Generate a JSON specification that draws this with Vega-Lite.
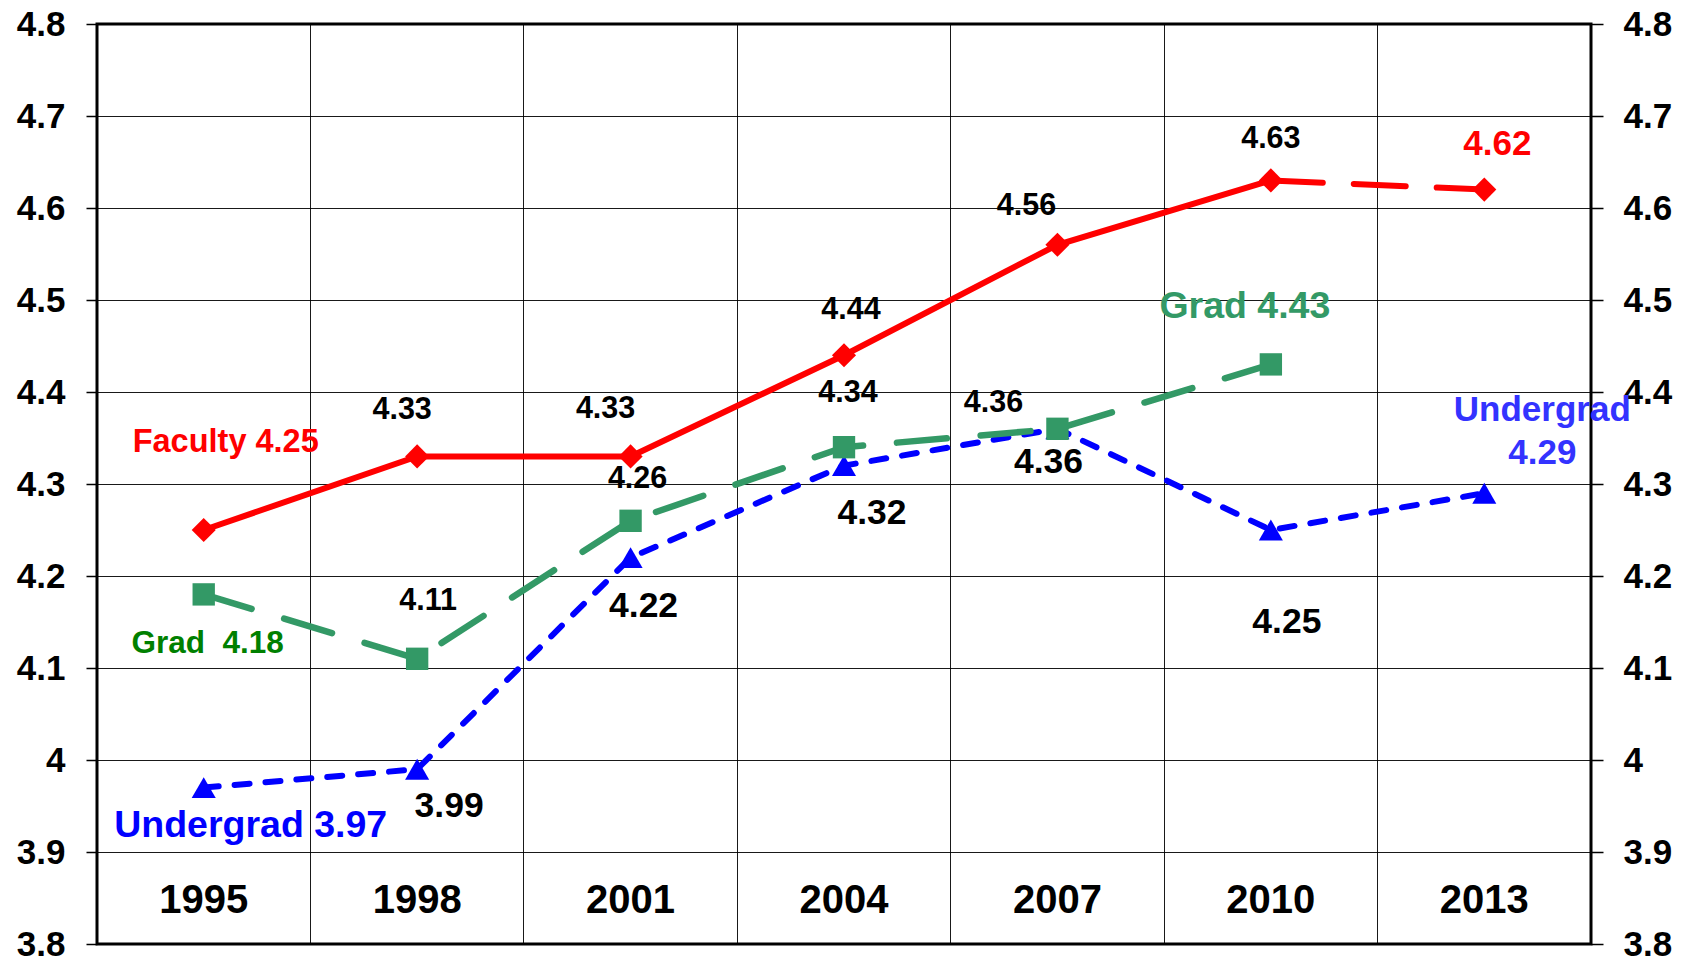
{
  "$schema": "https://vega.github.io/schema/vega-lite/v6.json",
  "width": 1494,
  "height": 920,
  "autosize": "none",
  "padding": {"left": 97, "top": 24, "right": 98, "bottom": 16},
  "background": "white",
  "config": {
    "view": {"stroke": "#000", "strokeWidth": 3},
    "font": "Liberation Sans",
    "text": {"font": "Liberation Sans", "fontWeight": "bold", "baseline": "middle", "align": "center"}
  },
  "datasets": {
    "pts": [
      {"series": "F", "year": 1995, "value": 4.25, "label": "Faculty 4.25"},
      {"series": "F", "year": 1998, "value": 4.33, "label": "4.33"},
      {"series": "F", "year": 2001, "value": 4.33, "label": "4.33"},
      {"series": "F", "year": 2004, "value": 4.44, "label": "4.44"},
      {"series": "F", "year": 2007, "value": 4.56, "label": "4.56"},
      {"series": "F", "year": 2010, "value": 4.63, "label": "4.63"},
      {"series": "F", "year": 2013, "value": 4.62, "label": "4.62"},
      {"series": "G", "year": 1995, "value": 4.18, "label": "Grad \u00a04.18"},
      {"series": "G", "year": 1998, "value": 4.11, "label": "4.11"},
      {"series": "G", "year": 2001, "value": 4.26, "label": "4.26"},
      {"series": "G", "year": 2004, "value": 4.34, "label": "4.34"},
      {"series": "G", "year": 2007, "value": 4.36, "label": "4.36"},
      {"series": "G", "year": 2010, "value": 4.43, "label": "Grad 4.43"},
      {"series": "U", "year": 1995, "value": 3.97, "label": "Undergrad 3.97"},
      {"series": "U", "year": 1998, "value": 3.99, "label": "3.99"},
      {"series": "U", "year": 2001, "value": 4.22, "label": "4.22"},
      {"series": "U", "year": 2004, "value": 4.32, "label": "4.32"},
      {"series": "U", "year": 2007, "value": 4.36, "label": "4.36"},
      {"series": "U", "year": 2010, "value": 4.25, "label": "4.25"},
      {"series": "U", "year": 2013, "value": 4.29, "label": "Undergrad\n4.29"}
    ],
    "years": [
      {"year": 1995}, {"year": 1998}, {"year": 2001}, {"year": 2004},
      {"year": 2007}, {"year": 2010}, {"year": 2013}
    ]
  },
  "layer": [
    {
      "data": {"name": "pts"},
      "encoding": {
        "x": {
          "field": "year", "type": "ordinal", "bandPosition": 0.5,
          "scale": {"type": "band", "paddingInner": 0, "paddingOuter": 0},
          "axis": {"orient": "bottom", "bandPosition": 0, "grid": true, "gridColor": "#000", "gridWidth": 1, "gridOpacity": 0.9, "ticks": false, "labels": false, "domain": false, "title": null}
        },
        "y": {
          "field": "value", "type": "quantitative",
          "scale": {"domain": [3.8, 4.8], "nice": false, "zero": false},
          "axis": {"orient": "left", "values": [3.8, 3.9, 4.0, 4.1, 4.2, 4.3, 4.4, 4.5, 4.6, 4.7, 4.8], "format": ".1~f", "grid": true, "gridColor": "#000", "gridWidth": 1, "gridOpacity": 0.9, "domain": false, "tickColor": "#000", "tickSize": 11, "tickWidth": 1.5, "labelFont": "Liberation Sans", "labelFontWeight": "bold", "labelFontSize": 35, "labelColor": "#000", "labelPadding": 21, "labelFlush": false, "labelOverlap": false, "labelBound": false, "title": null}
        }
      },
      "layer": [
        {"transform": [{"filter": "datum.series === 'U'"}], "mark": {"type": "line", "color": "#0000FF", "strokeWidth": 6, "strokeDash": [15, 16], "strokeCap": "round"}},
        {"transform": [{"filter": "datum.series === 'U'"}], "mark": {"type": "point", "shape": "triangle-up", "filled": true, "size": 580, "color": "#0000FF", "opacity": 1, "strokeWidth": 0}},
        {"transform": [{"filter": "datum.series === 'G'"}], "mark": {"type": "line", "color": "#339966", "strokeWidth": 6.5, "strokeDash": [50, 34], "strokeCap": "round"}},
        {"transform": [{"filter": "datum.series === 'G'"}], "mark": {"type": "point", "shape": "square", "filled": true, "size": 500, "color": "#339966", "opacity": 1, "strokeWidth": 0}},
        {"transform": [{"filter": "datum.series === 'F' && datum.year <= 2010"}], "mark": {"type": "line", "color": "#FF0000", "strokeWidth": 6}},
        {"transform": [{"filter": "datum.series === 'F' && datum.year >= 2010"}], "mark": {"type": "line", "color": "#FF0000", "strokeWidth": 6, "strokeDash": [52, 31], "strokeCap": "round"}},
        {"transform": [{"filter": "datum.series === 'F'"}], "mark": {"type": "point", "shape": "diamond", "filled": true, "size": 580, "color": "#FF0000", "opacity": 1, "strokeWidth": 0}},

        {"transform": [{"filter": "datum.series === 'F' && datum.year === 1995"}], "mark": {"type": "text", "dx": 22, "dy": -88, "fontSize": 32.5, "color": "#FF0000"}, "encoding": {"text": {"field": "label"}}},
        {"transform": [{"filter": "datum.series === 'F' && datum.year === 1998"}], "mark": {"type": "text", "dx": -15, "dy": -46, "fontSize": 30.5, "color": "#000"}, "encoding": {"text": {"field": "label"}}},
        {"transform": [{"filter": "datum.series === 'F' && datum.year === 2001"}], "mark": {"type": "text", "dx": -25, "dy": -47, "fontSize": 30.5, "color": "#000"}, "encoding": {"text": {"field": "label"}}},
        {"transform": [{"filter": "datum.series === 'F' && datum.year === 2004"}], "mark": {"type": "text", "dx": 7, "dy": -45, "fontSize": 30.5, "color": "#000"}, "encoding": {"text": {"field": "label"}}},
        {"transform": [{"filter": "datum.series === 'F' && datum.year === 2007"}], "mark": {"type": "text", "dx": -31, "dy": -39, "fontSize": 30.5, "color": "#000"}, "encoding": {"text": {"field": "label"}}},
        {"transform": [{"filter": "datum.series === 'F' && datum.year === 2010"}], "mark": {"type": "text", "dx": 0, "dy": -41, "fontSize": 30.5, "color": "#000"}, "encoding": {"text": {"field": "label"}}},
        {"transform": [{"filter": "datum.series === 'F' && datum.year === 2013"}], "mark": {"type": "text", "dx": 13, "dy": -46, "fontSize": 35, "color": "#FF0000"}, "encoding": {"text": {"field": "label"}}},

        {"transform": [{"filter": "datum.series === 'G' && datum.year === 1995"}], "mark": {"type": "text", "dx": 4, "dy": 50, "fontSize": 31.5, "color": "#008000"}, "encoding": {"text": {"field": "label"}}},
        {"transform": [{"filter": "datum.series === 'G' && datum.year === 1998"}], "mark": {"type": "text", "dx": 11, "dy": -58, "fontSize": 30.5, "color": "#000"}, "encoding": {"text": {"field": "label"}}},
        {"transform": [{"filter": "datum.series === 'G' && datum.year === 2001"}], "mark": {"type": "text", "dx": 7, "dy": -42, "fontSize": 30.5, "color": "#000"}, "encoding": {"text": {"field": "label"}}},
        {"transform": [{"filter": "datum.series === 'G' && datum.year === 2004"}], "mark": {"type": "text", "dx": 4, "dy": -54, "fontSize": 30.5, "color": "#000"}, "encoding": {"text": {"field": "label"}}},
        {"transform": [{"filter": "datum.series === 'G' && datum.year === 2007"}], "mark": {"type": "text", "dx": -64, "dy": -26, "fontSize": 30.5, "color": "#000"}, "encoding": {"text": {"field": "label"}}},
        {"transform": [{"filter": "datum.series === 'G' && datum.year === 2010"}], "mark": {"type": "text", "dx": -26, "dy": -57, "fontSize": 37.5, "color": "#339966"}, "encoding": {"text": {"field": "label"}}},

        {"transform": [{"filter": "datum.series === 'U' && datum.year === 1995"}], "mark": {"type": "text", "dx": 47, "dy": 38, "fontSize": 37.5, "color": "#0000FF"}, "encoding": {"text": {"field": "label"}}},
        {"transform": [{"filter": "datum.series === 'U' && datum.year === 1998"}], "mark": {"type": "text", "dx": 32, "dy": 37, "fontSize": 35.5, "color": "#000"}, "encoding": {"text": {"field": "label"}}},
        {"transform": [{"filter": "datum.series === 'U' && datum.year === 2001"}], "mark": {"type": "text", "dx": 13, "dy": 48, "fontSize": 35.5, "color": "#000"}, "encoding": {"text": {"field": "label"}}},
        {"transform": [{"filter": "datum.series === 'U' && datum.year === 2004"}], "mark": {"type": "text", "dx": 28, "dy": 47, "fontSize": 35.5, "color": "#000"}, "encoding": {"text": {"field": "label"}}},
        {"transform": [{"filter": "datum.series === 'U' && datum.year === 2007"}], "mark": {"type": "text", "dx": -9, "dy": 33, "fontSize": 35.5, "color": "#000"}, "encoding": {"text": {"field": "label"}}},
        {"transform": [{"filter": "datum.series === 'U' && datum.year === 2010"}], "mark": {"type": "text", "dx": 16, "dy": 92, "fontSize": 35.5, "color": "#000"}, "encoding": {"text": {"field": "label"}}},
        {"transform": [{"filter": "datum.series === 'U' && datum.year === 2013"}], "mark": {"type": "text", "dx": 58, "dy": -83, "fontSize": 35, "color": "#3333FF", "lineBreak": "\n", "lineHeight": 43}, "encoding": {"text": {"field": "label"}}}
      ]
    },
    {
      "data": {"name": "years"},
      "mark": {"type": "text", "fontSize": 40, "color": "#000", "dy": 3},
      "encoding": {
        "x": {"field": "year", "type": "ordinal", "bandPosition": 0.5},
        "y": {
          "datum": 3.85, "type": "quantitative",
          "scale": {"domain": [3.8, 4.8], "nice": false, "zero": false},
          "axis": {"orient": "right", "values": [3.8, 3.9, 4.0, 4.1, 4.2, 4.3, 4.4, 4.5, 4.6, 4.7, 4.8], "format": ".1~f", "grid": false, "domain": false, "tickColor": "#000", "tickSize": 12, "tickWidth": 1.5, "labelFont": "Liberation Sans", "labelFontWeight": "bold", "labelFontSize": 35, "labelColor": "#000", "labelPadding": 20, "labelFlush": false, "labelOverlap": false, "labelBound": false, "title": null}
        },
        "text": {"field": "year", "type": "nominal"}
      }
    }
  ],
  "resolve": {"scale": {"y": "independent"}}
}
